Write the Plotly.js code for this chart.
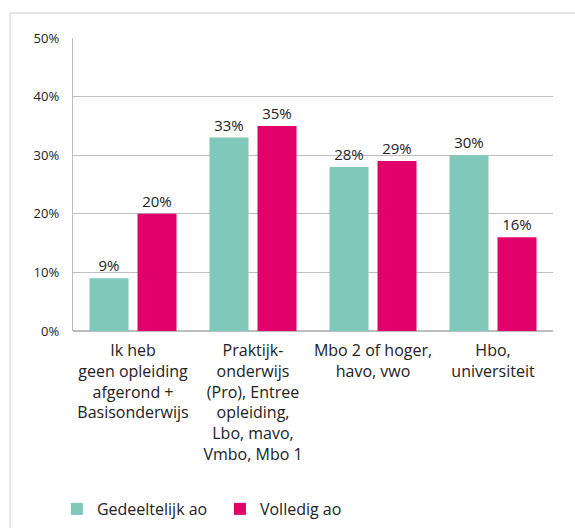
<!DOCTYPE html>
<html>
<head>
<meta charset="utf-8">
<script src="https://cdn.plot.ly/plotly-3.0.1.min.js"></script>
<style>
html,body{margin:0;padding:0;background:#fff;}
#chart{width:575px;height:528px;}
</style>
</head>
<body>
<div id="chart"></div>
<script>
const categories = [
  "Ik heb<br>geen opleiding<br>afgerond +<br>Basisonderwijs",
  "Praktijk-<br>onderwijs<br>(Pro), Entree<br>opleiding,<br>Lbo, mavo,<br>Vmbo, Mbo 1",
  "Mbo 2 of hoger,<br>havo, vwo",
  "Hbo,<br>universiteit"
];
const gedeeltelijk = [9, 33, 28, 30];
const volledig = [20, 35, 29, 16];
const seriesNames = ["Gedeeltelijk ao", "Volledig ao"];
const yTicks = [0, 10, 20, 30, 40, 50];
const yTickText = yTicks.map(v => v + "%");

const font = "'Open Sans', 'Noto Sans', sans-serif";
const txt = "#222222";

const traces = [
  {
    type: "bar", name: seriesNames[0], x: categories, y: gedeeltelijk,
    marker: {color: "#7fc8ba"},
    text: gedeeltelijk.map(v => v + "%"), texttemplate: "%{text}",
    textposition: "outside", cliponaxis: false,
    textfont: {family: font, size: 15, color: txt}, hoverinfo: "none"
  },
  {
    type: "bar", name: seriesNames[1], x: categories, y: volledig,
    marker: {color: "#e2006a"},
    text: volledig.map(v => v + "%"), texttemplate: "%{text}",
    textposition: "outside", cliponaxis: false,
    textfont: {family: font, size: 15, color: txt}, hoverinfo: "none"
  }
];

const layout = {
  width: 575, height: 528,
  margin: {l: 73, r: 22, t: 38, b: 197, autoexpand: false},
  paper_bgcolor: "#ffffff", plot_bgcolor: "#ffffff",
  barmode: "group", bargap: 0.2, bargroupgap: 0.1875,
  font: {family: font, color: txt},
  showlegend: true,
  legend: {
    orientation: "h", xref: "container", yref: "container",
    x: 0.099, xanchor: "left", y: 0.036, yanchor: "middle",
    font: {family: font, size: 16, color: txt}, itemwidth: 30,
    entrywidth: 118, entrywidthmode: "pixels", traceorder: "normal"
  },
  xaxis: {
    type: "category", showgrid: false, showline: false, zeroline: false,
    ticks: "", tickfont: {family: font, size: 16, color: txt}, tickangle: 0,
    ticklabelstandoff: 8, automargin: false, fixedrange: true
  },
  yaxis: {
    range: [0, 50], tickvals: yTicks, ticktext: yTickText,
    showgrid: true, gridcolor: "#bdbdbd", gridwidth: 1.2,
    zeroline: true, zerolinecolor: "#bdbdbd", zerolinewidth: 1.5,
    showline: true, linecolor: "#bdbdbd", linewidth: 1.2,
    ticks: "", ticklabelstandoff: 10, automargin: false,
    tickfont: {family: font, size: 13, color: txt}, fixedrange: true
  },
  shapes: [
    {type: "line", xref: "paper", yref: "paper", x0: -0.131, x1: 1.2, y0: 1.0853, y1: 1.0853,
     line: {color: "#dddddd", width: 1.5}},
    {type: "line", xref: "paper", yref: "paper", x0: -0.131, x1: -0.131, y0: 1.0853, y1: -0.7,
     line: {color: "#dddddd", width: 1.5}}
  ]
};

Plotly.newPlot("chart", traces, layout, {staticPlot: true, displayModeBar: false});
</script>
</body>
</html>
